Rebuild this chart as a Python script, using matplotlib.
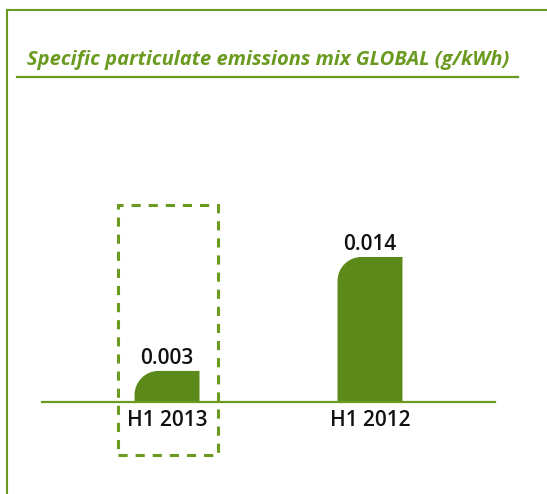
import matplotlib
matplotlib.use("Agg")
import matplotlib.pyplot as plt
from matplotlib.path import Path
from matplotlib.patches import PathPatch, Rectangle
from matplotlib.lines import Line2D

categories = ["H1 2013", "H1 2012"]
values = [0.003, 0.014]
value_labels = ["0.003", "0.014"]
title = "Specific particulate emissions mix GLOBAL (g/kWh)"

W, H = 547, 494
DPI = 100
BAR = "#5b8a1b"
GREEN = "#6a9a20"

fig = plt.figure(figsize=(W / DPI, H / DPI), dpi=DPI)
fig.patch.set_facecolor("white")

def fx(px):
    return px / W

def fy(py):
    return 1 - py / H

# axes: baseline at y=402px, x from 42 to 495
ax_left, ax_right, ax_base, ax_top = 42, 495, 402, 200
ax = fig.add_axes([fx(ax_left), fy(ax_base), fx(ax_right - ax_left), (ax_base - ax_top) / H])
ax.set_xlim(-0.616, 1.616)
ax.set_ylim(0, 0.0195)
ax.axis("off")

xs = list(range(len(categories)))
bars = ax.bar(xs, values, width=0.32, color=BAR)

# convert px to data units
px_per_x = (ax_right - ax_left) / (1.616 + 0.616)
px_per_y = (ax_base - ax_top) / 0.0195
k = 0.5523
for b in bars:
    b.set_visible(False)
    x0 = b.get_x(); x1 = x0 + b.get_width(); h = b.get_height()
    r_px = min(24, h * px_per_y * 0.8)
    rx = r_px / px_per_x
    ry = r_px / px_per_y
    verts = [(x0, 0), (x0, h - ry),
             (x0, h - ry + k * ry), (x0 + rx - k * rx, h), (x0 + rx, h),
             (x1, h), (x1, 0), (x0, 0)]
    codes = [Path.MOVETO, Path.LINETO, Path.CURVE4, Path.CURVE4, Path.CURVE4,
             Path.LINETO, Path.LINETO, Path.CLOSEPOLY]
    ax.add_patch(PathPatch(Path(verts, codes), facecolor=BAR, edgecolor="none"))

# baseline
ax.axhline(0, color=GREEN, lw=1.6, clip_on=False)

font = "Open Sans"
for x, v, lab in zip(xs, values, value_labels):
    ax.annotate(lab, (x, v), xytext=(0, 1.5), textcoords="offset points",
                ha="center", va="bottom", fontsize=15, family=font,
                fontweight="semibold", color="#111111")
for x, c in zip(xs, categories):
    ax.annotate(c, (x, 0), xytext=(0, -6), textcoords="offset points",
                ha="center", va="top", fontsize=15, family=font,
                fontweight="semibold", color="#111111")

# frame lines
fig.add_artist(Line2D([fx(7), fx(7)], [fy(10), fy(494)], color=GREEN, lw=1.5))
fig.add_artist(Line2D([fx(7), fx(547)], [fy(10), fy(10)], color=GREEN, lw=1.5))

# title and underline
fig.text(fx(268), fy(60), title, ha="center", va="center", fontsize=14.5,
         family=font, fontweight="bold", fontstyle="italic", color=GREEN)
fig.add_artist(Line2D([fx(17), fx(518)], [fy(76.5), fy(76.5)], color=GREEN, lw=1.6))

# dashed highlight box
fig.add_artist(Rectangle((fx(118), fy(455)), fx(218 - 118), (455 - 205) / H,
                         transform=fig.transFigure, fill=False, edgecolor=GREEN,
                         lw=2.2, linestyle=(0, (3, 2.6))))

fig.savefig("out.png", dpi=DPI)
